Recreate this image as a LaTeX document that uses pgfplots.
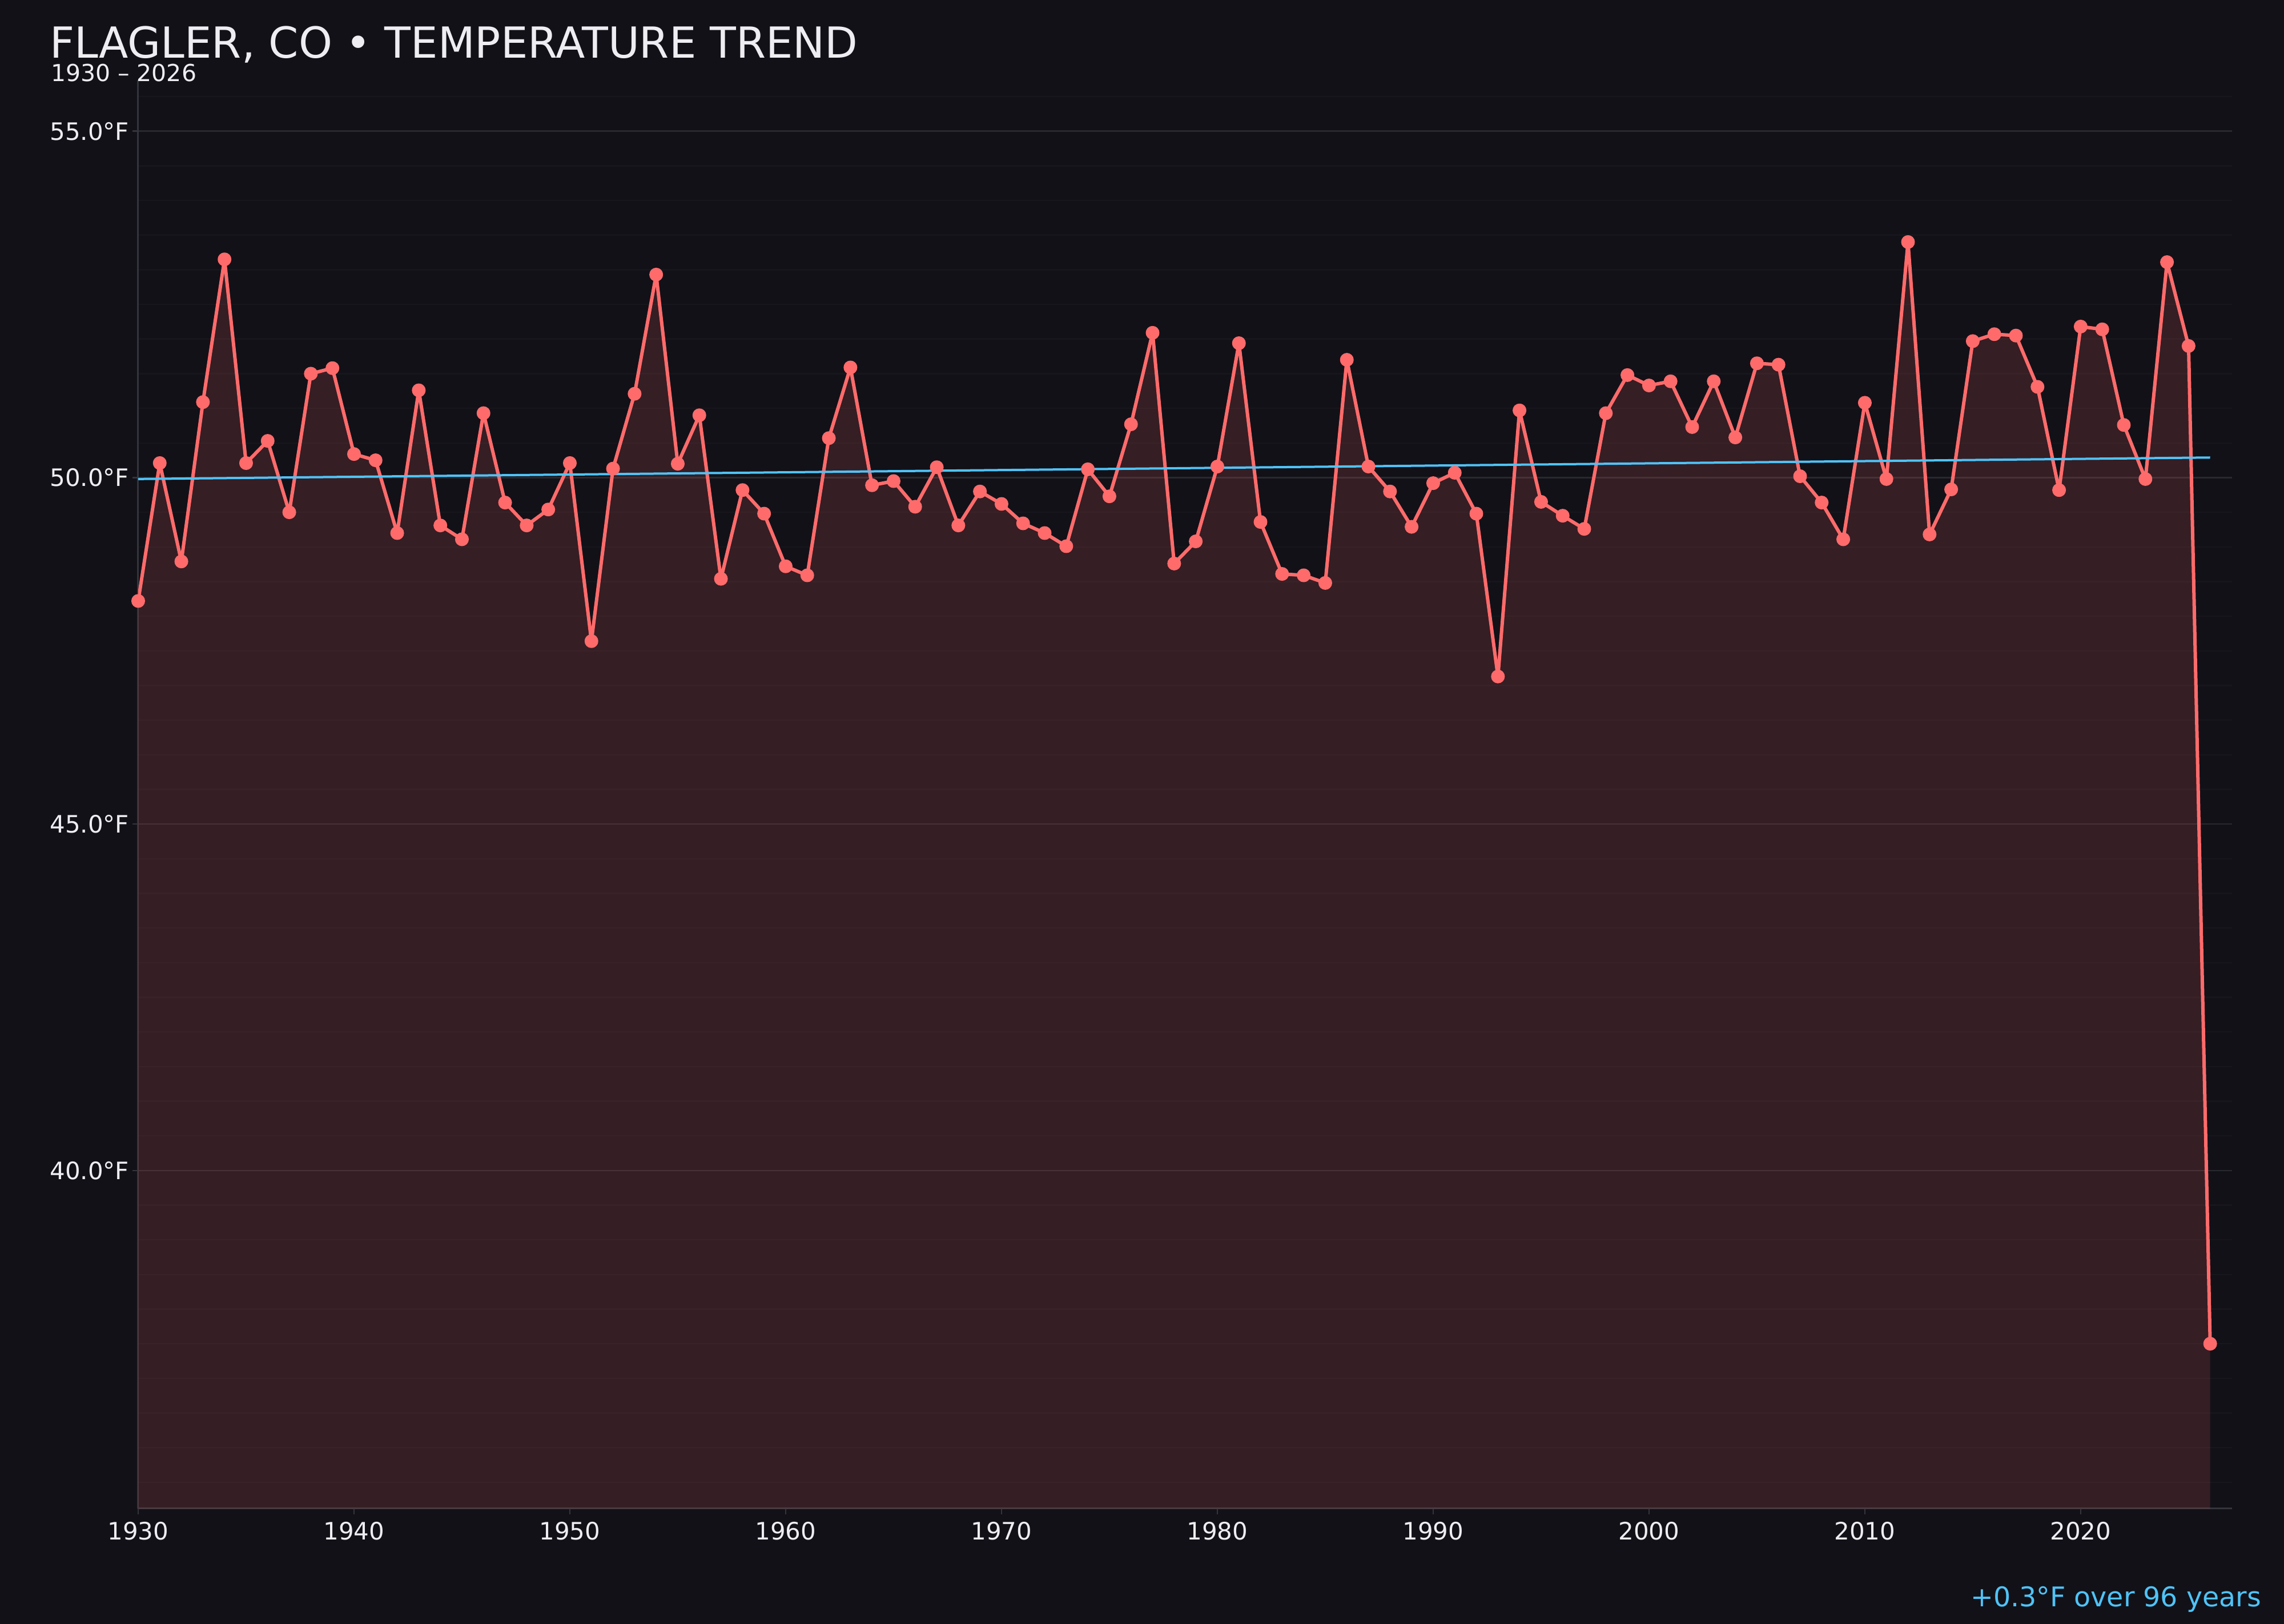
\documentclass[border=0pt]{standalone}
\usepackage{fontspec}
\setmainfont{DejaVu Sans}
\usepackage{pgfplots}
\usepackage{pgfplotstable}
\pgfplotsset{compat=1.18}
\definecolor{bg}{RGB}{18,17,24}
\definecolor{linec}{RGB}{255,107,107}
\definecolor{trendc}{RGB}{79,195,247}
\definecolor{gridmaj}{RGB}{40,40,47}
\definecolor{gridmin}{RGB}{23,22,29}
\definecolor{spine}{RGB}{52,52,60}
\definecolor{txt}{RGB}{238,238,242}

\pgfplotstableread{
year temp
1930 48.22
1931 50.21
1932 48.79
1933 51.09
1934 53.15
1935 50.21
1936 50.53
1937 49.50
1938 51.50
1939 51.58
1940 50.34
1941 50.25
1942 49.20
1943 51.26
1944 49.31
1945 49.11
1946 50.93
1947 49.64
1948 49.31
1949 49.54
1950 50.21
1951 47.64
1952 50.13
1953 51.21
1954 52.93
1955 50.20
1956 50.90
1957 48.54
1958 49.82
1959 49.48
1960 48.72
1961 48.59
1962 50.57
1963 51.59
1964 49.89
1965 49.95
1966 49.58
1967 50.15
1968 49.31
1969 49.80
1970 49.62
1971 49.34
1972 49.20
1973 49.01
1974 50.12
1975 49.73
1976 50.77
1977 52.09
1978 48.76
1979 49.08
1980 50.16
1981 51.94
1982 49.36
1983 48.61
1984 48.59
1985 48.48
1986 51.70
1987 50.16
1988 49.80
1989 49.29
1990 49.92
1991 50.07
1992 49.48
1993 47.13
1994 50.97
1995 49.65
1996 49.45
1997 49.26
1998 50.93
1999 51.48
2000 51.33
2001 51.39
2002 50.73
2003 51.39
2004 50.58
2005 51.65
2006 51.63
2007 50.02
2008 49.64
2009 49.11
2010 51.08
2011 49.98
2012 53.40
2013 49.18
2014 49.83
2015 51.97
2016 52.07
2017 52.05
2018 51.31
2019 49.82
2020 52.18
2021 52.14
2022 50.76
2023 49.98
2024 53.11
2025 51.90
2026 37.50
}\temps

\begin{document}
\begin{tikzpicture}
\fill[bg] (0,0) rectangle (800pt,568.8pt);
\useasboundingbox (0,0) rectangle (800pt,568.8pt);
\begin{axis}[
  at={(48.4pt,40.4pt)}, anchor=south west,
  scale only axis, width=733.3pt, height=500.4pt,
  xmin=1930, xmax=2027, ymin=35.12, ymax=55.74,
  axis x line*=bottom, axis y line*=left,
  axis line style={spine, line width=0.6pt},
  xtick={1930,1940,1950,1960,1970,1980,1990,2000,2010,2020},
  xticklabels={1930,1940,1950,1960,1970,1980,1990,2000,2010,2020},
  ytick={40,45,50,55},
  yticklabels={40.0°F,45.0°F,50.0°F,55.0°F},
  minor ytick={35.5,36,36.5,37,37.5,38,38.5,39,39.5,40.5,41,41.5,42,42.5,43,43.5,44,44.5,45.5,46,46.5,47,47.5,48,48.5,49,49.5,50.5,51,51.5,52,52.5,53,53.5,54,54.5,55.5},
  ymajorgrids, yminorgrids,
  major grid style={gridmaj, line width=0.5pt},
  minor grid style={gridmin, line width=0.5pt},
  tick align=outside,
  major tick length=2pt, minor tick length=0pt,
  tick style={spine, line width=0.5pt},
  ticklabel style={font=\fontsize{8.4}{10}\selectfont, text=txt},
  yticklabel style={inner sep=0pt, anchor=east, xshift=-1pt},
  xticklabel style={inner sep=0pt, anchor=north, yshift=-2.4pt},
]
\addplot[draw=none, fill=linec, fill opacity=0.15] table[x=year,y=temp]{\temps} \closedcycle;
\addplot[linec, line width=1.2pt, line join=round, mark=*, mark size=1.8pt, mark options={fill=linec, draw=none}] table[x=year,y=temp]{\temps};
\addplot[trendc, line width=0.8pt] coordinates {(1930,49.98) (2026,50.29)};
\end{axis}
\node[anchor=base west, text=txt, font=\fontsize{15}{18}\selectfont, inner sep=0pt] at (17.2pt,548.4pt) {FLAGLER, CO • TEMPERATURE TREND};
\node[anchor=base west, text=txt, font=\fontsize{8.2}{10}\selectfont, inner sep=0pt] at (17.6pt,540.2pt) {1930 – 2026};
\node[anchor=base east, text=trendc, font=\fontsize{9.5}{11}\selectfont, inner sep=0pt] at (792.2pt,6pt) {+0.3°F over 96 years};
\end{tikzpicture}
\end{document}
